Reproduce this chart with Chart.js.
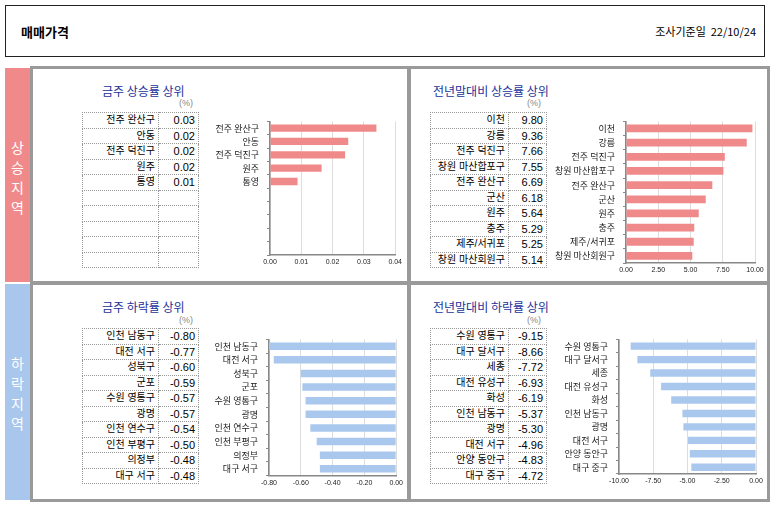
<!DOCTYPE html>
<html>
<head>
<meta charset="utf-8">
<script src="https://cdn.jsdelivr.net/npm/chart.js@4/dist/chart.umd.min.js"></script>
<style>
body { margin: 0; background: #fff; font-family: "Liberation Sans", "Noto Sans CJK KR", sans-serif; }
.abs { position: absolute; }
.head { left: 5px; top: 5px; width: 758px; height: 50px; border: 1px solid #222; }
.side { width: 25px; color: #fff; font-size: 14px; text-align: center; line-height: 20px; }
.panel { border: 3px solid #9a9a9a; box-sizing: border-box; }
.title { font-size: 12px; color: #23329a; font-family: "Noto Sans CJK KR"; }
.unit { font-size: 9px; color: #888; }
table { border-collapse: collapse; table-layout: fixed; font-size: 10px; font-family: "Liberation Sans", "Noto Sans CJK KR"; }
td { border: 1px dotted #999; height: 14.5px; padding: 0 3px; text-align: right; line-height: 14px; white-space: nowrap; overflow: hidden; }
td.v { font-size: 11px; }
</style>
</head>
<body>
<div class="abs head">
  <div class="abs" style="left:15px;top:16px;font-size:13px;font-weight:bold;font-family:'Noto Sans CJK KR'">매매가격</div>
  <div class="abs" style="right:8px;top:17px;font-size:11px;font-family:'Noto Sans CJK KR'">조사기준일 &nbsp;22/10/24</div>
</div>
<div class="abs side" style="left:5px;top:68px;height:214px;background:#f08a8a"><div style="padding-top:70px">상<br>승<br>지<br>역</div></div>
<div class="abs side" style="left:5px;top:284px;height:216px;background:#a9c6ec"><div style="padding-top:70px;color:#fff">하<br>락<br>지<br>역</div></div>
<div class="abs panel" style="left:30px;top:66px;width:380px;height:218px"></div>
<div class="abs panel" style="left:408px;top:66px;width:362px;height:218px"></div>
<div class="abs panel" style="left:30px;top:282px;width:380px;height:220px"></div>
<div class="abs panel" style="left:408px;top:282px;width:362px;height:220px"></div>
<div id="root"></div>
<script>
const weekUpNames = ['전주 완산구', '안동', '전주 덕진구', '원주', '통영'];
const weekUpTable = ['0.03', '0.02', '0.02', '0.02', '0.01'];
const weekUpBars = [0.034, 0.025, 0.024, 0.0165, 0.0088];

const yearUpNames = ['이천', '강릉', '전주 덕진구', '창원 마산합포구', '전주 완산구', '군산', '원주', '충주', '제주/서귀포', '창원 마산회원구'];
const yearUpValues = [9.80, 9.36, 7.66, 7.55, 6.69, 6.18, 5.64, 5.29, 5.25, 5.14];

const weekDownNames = ['인천 남동구', '대전 서구', '성북구', '군포', '수원 영통구', '광명', '인천 연수구', '인천 부평구', '의정부', '대구 서구'];
const weekDownValues = [-0.80, -0.77, -0.60, -0.59, -0.57, -0.57, -0.54, -0.50, -0.48, -0.48];

const yearDownNames = ['수원 영통구', '대구 달서구', '세종', '대전 유성구', '화성', '인천 남동구', '광명', '대전 서구', '안양 동안구', '대구 중구'];
const yearDownValues = [-9.15, -8.66, -7.72, -6.93, -6.19, -5.37, -5.30, -4.96, -4.83, -4.72];

const root = document.getElementById('root');

function addText(cls, text, x, y) {
  const d = document.createElement('div');
  d.className = 'abs ' + cls;
  d.style.left = x + 'px'; d.style.top = y + 'px';
  d.textContent = text;
  root.appendChild(d);
}

function addTable(names, vals, x, y, nameW, valW) {
  const t = document.createElement('table');
  t.className = 'abs';
  t.style.left = x + 'px'; t.style.top = y + 'px';
  t.style.width = (nameW + valW) + 'px';
  for (let i = 0; i < 10; i++) {
    const tr = document.createElement('tr');
    const a = document.createElement('td'); a.style.width = (nameW - 7) + 'px'; a.textContent = names[i] || '';
    const b = document.createElement('td'); b.className = 'v'; b.style.width = (valW - 7) + 'px'; b.textContent = vals[i] || '';
    tr.appendChild(a); tr.appendChild(b); t.appendChild(tr);
  }
  root.appendChild(t);
}

function addChart(labels, values, color, min, max, step, box) {
  const c = document.createElement('canvas');
  c.className = 'abs';
  c.style.left = box.x + 'px'; c.style.top = box.y + 'px';
  c.width = box.w; c.height = box.h;
  root.appendChild(c);
  const lab = labels.slice(), val = values.slice();
  while (lab.length < 10) { lab.push(''); val.push(null); }
  new Chart(c.getContext('2d'), {
    type: 'bar',
    data: { labels: lab, datasets: [{ data: val, backgroundColor: color, barPercentage: 0.55, categoryPercentage: 1 }] },
    options: {
      indexAxis: 'y', responsive: false, animation: false,
      layout: { padding: { top: box.pt, right: box.pr, left: 0, bottom: 0 } },
      plugins: { legend: { display: false }, tooltip: { enabled: false } },
      scales: {
        x: {
          min: min, max: max,
          ticks: { stepSize: step, color: '#222', font: { size: 7 }, callback: v => v.toFixed(2), maxRotation: 0 },
          grid: { color: '#ddd', drawTicks: false },
          border: { color: '#888', width: 1.5 },
          afterFit: s => { s.height = box.xh; }
        },
        y: {
          ticks: { color: '#222', font: { size: 9, family: 'Noto Sans CJK KR' }, padding: 8, autoSkip: false },
          grid: { drawOnChartArea: false, tickLength: 3, color: '#888', offset: true },
          border: { color: '#888', width: 1.5 },
          afterFit: s => { s.width = box.yw; }
        }
      }
    }
  });
}

// 상승지역
addText('title', '금주 상승률 상위', 102, 82);
addText('unit', '(%)', 179, 98);
addTable(weekUpNames, weekUpTable, 82, 112, 76, 40);
addChart(weekUpNames, weekUpBars, '#f08a8a', 0, 0.04, 0.01, { x: 200, y: 108, w: 205, h: 163, yw: 70, xh: 16, pt: 5, pr: 7 });

addText('title', '전년말대비 상승률 상위', 433, 82);
addText('unit', '(%)', 527, 98);
addTable(yearUpNames, yearUpValues.map(v => v.toFixed(2)), 430, 112, 78, 38);
addChart(yearUpNames, yearUpValues, '#f08a8a', 0, 10, 2.5, { x: 540, y: 108, w: 228, h: 170, yw: 86, xh: 15, pt: 5, pr: 13 });

// 하락지역
addText('title', '금주 하락률 상위', 102, 298);
addText('unit', '(%)', 179, 315);
addTable(weekDownNames, weekDownValues.map(v => v.toFixed(2)), 82, 328, 76, 40);
addChart(weekDownNames, weekDownValues, '#aac8ee', -0.8, 0, 0.2, { x: 198, y: 326, w: 208, h: 163, yw: 71, xh: 11, pt: 4, pr: 8 });

addText('title', '전년말대비 하락률 상위', 433, 298);
addText('unit', '(%)', 527, 315);
addTable(yearDownNames, yearDownValues.map(v => v.toFixed(2)), 430, 328, 78, 38);
addChart(yearDownNames, yearDownValues, '#aac8ee', -10, 0, 2.5, { x: 540, y: 326, w: 229, h: 163, yw: 79, xh: 15, pt: 4, pr: 13 });
</script>
</body>
</html>
